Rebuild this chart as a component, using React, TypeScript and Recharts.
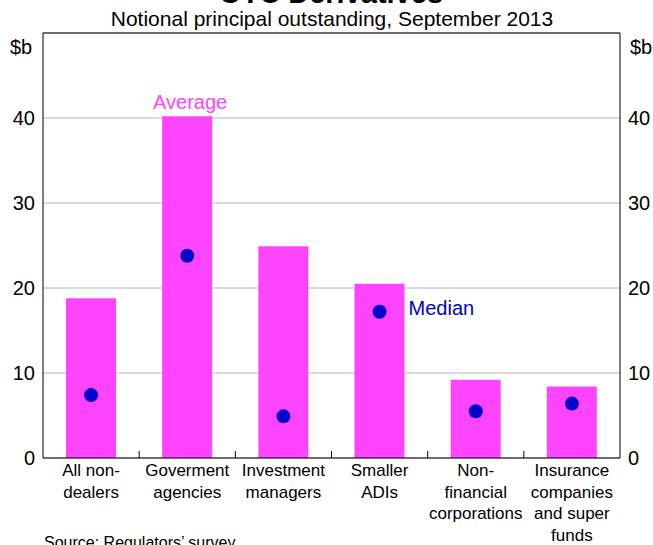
import React from 'react';
import {
  ComposedChart,
  Bar,
  Line,
  XAxis,
  YAxis,
  CartesianGrid,
  ReferenceLine,
  LabelList,
} from 'recharts';

/* ---------- OTC Derivatives: average vs median ---------- */

const categories = [
  'All non-|dealers',
  'Goverment|agencies',
  'Investment|managers',
  'Smaller|ADIs',
  'Non-|financial|corporations',
  'Insurance|companies|and super|funds',
];
const averageValues = [18.8, 40.2, 24.9, 20.5, 9.2, 8.4];
const medianValues = [7.4, 23.8, 4.9, 17.2, 5.5, 6.4];
const yTicks = [0, 10, 20, 30, 40];

const averageLabelIndex = 1;
const medianLabelIndex = 3;

const data = categories.map((name, i) => ({
  name,
  average: averageValues[i],
  median: medianValues[i],
}));

const FONT = '"Liberation Sans", Arial, sans-serif';
const MAGENTA = '#FF44FF';
const BLUE = '#0000CC';

const CategoryTick = (props: any) => {
  const { x, y, payload, index, visibleTicksCount, width } = props;
  const band = width / visibleTicksCount;
  const lines = String(payload.value).split('|');
  return (
    <g>
      {index < visibleTicksCount - 1 && (
        <line x1={x + band / 2} x2={x + band / 2} y1={y} y2={y - 7} stroke="#000" />
      )}
      <text x={x} y={y} textAnchor="middle" fontSize={17} fill="#000" fontFamily={FONT}>
        {lines.map((l, i) => (
          <tspan key={i} x={x} dy={i === 0 ? 18 : 21.5}>
            {l}
          </tspan>
        ))}
      </text>
    </g>
  );
};

const RightTick = (props: any) => {
  const { x, y, payload } = props;
  return (
    <text x={x} y={y} dy={7} textAnchor="start" fontSize={20} fill="#000" fontFamily={FONT}>
      {payload.value}
    </text>
  );
};

const AverageLabel = (props: any) => {
  const { x, y, width, index } = props;
  if (index !== averageLabelIndex) return null;
  return (
    <text x={x + width / 2 + 3} y={y - 7} textAnchor="middle" fontSize={20} fill={MAGENTA} fontFamily={FONT}>
      Average
    </text>
  );
};

const MedianLabel = (props: any) => {
  const { x, y, index } = props;
  if (index !== medianLabelIndex) return null;
  return (
    <text x={x + 29} y={y + 3} fontSize={20} fill={BLUE} fontFamily={FONT}>
      Median
    </text>
  );
};

export default function App() {
  return (
    <div
      style={{
        position: 'absolute',
        left: 0,
        top: 0,
        width: 653,
        height: 545,
        overflow: 'hidden',
        background: '#fff',
        fontFamily: FONT,
      }}
    >
      <div
        style={{
          position: 'absolute',
          left: 0,
          width: 662,
          top: -24,
          textAlign: 'center',
          fontSize: 29,
          fontWeight: 'bold',
          lineHeight: '34px',
        }}
      >
        OTC Derivatives
      </div>
      <div
        style={{
          position: 'absolute',
          left: 0,
          width: 664,
          top: 7,
          textAlign: 'center',
          fontSize: 21,
          lineHeight: '24px',
        }}
      >
        Notional principal outstanding, September 2013
      </div>
      <div style={{ position: 'absolute', left: 10, top: 36, fontSize: 20, lineHeight: '22px' }}>$b</div>
      <div style={{ position: 'absolute', left: 630, top: 36, fontSize: 20, lineHeight: '22px' }}>$b</div>

      <ComposedChart
        width={653}
        height={545}
        data={data}
        margin={{ top: 33, right: 0, bottom: 17, left: 0 }}
      >
        <CartesianGrid yAxisId="left" vertical={false} stroke="#b4b4b4" />
        <XAxis
          dataKey="name"
          interval={0}
          tickLine={false}
          tickSize={0}
          tickMargin={0}
          height={70}
          axisLine={{ stroke: '#000' }}
          tick={<CategoryTick />}
        />
        <YAxis
          yAxisId="left"
          orientation="left"
          width={43}
          domain={[0, 50]}
          ticks={yTicks}
          tickLine={false}
          axisLine={{ stroke: '#000' }}
          tick={{ fontSize: 20, fill: '#000', fontFamily: FONT }}
        />
        <YAxis
          yAxisId="right"
          orientation="right"
          width={33}
          domain={[0, 50]}
          ticks={yTicks}
          tickLine={false}
          axisLine={{ stroke: '#000' }}
          tick={<RightTick />}
        />
        <ReferenceLine yAxisId="left" y={50} stroke="#000" />
        <Bar yAxisId="left" dataKey="average" fill={MAGENTA} barSize={50} isAnimationActive={false}>
          <LabelList dataKey="average" content={<AverageLabel />} />
        </Bar>
        <Line
          yAxisId="right"
          dataKey="average"
          stroke="none"
          dot={false}
          activeDot={false}
          isAnimationActive={false}
        />
        <Line
          yAxisId="left"
          dataKey="median"
          stroke="none"
          dot={{ r: 7, fill: BLUE, stroke: 'none' }}
          activeDot={false}
          isAnimationActive={false}
        >
          <LabelList dataKey="median" content={<MedianLabel />} />
        </Line>
      </ComposedChart>

      <div style={{ position: 'absolute', left: 44, top: 534, fontSize: 16, lineHeight: '18px' }}>
        Source: Regulators&#8217; survey
      </div>
    </div>
  );
}
